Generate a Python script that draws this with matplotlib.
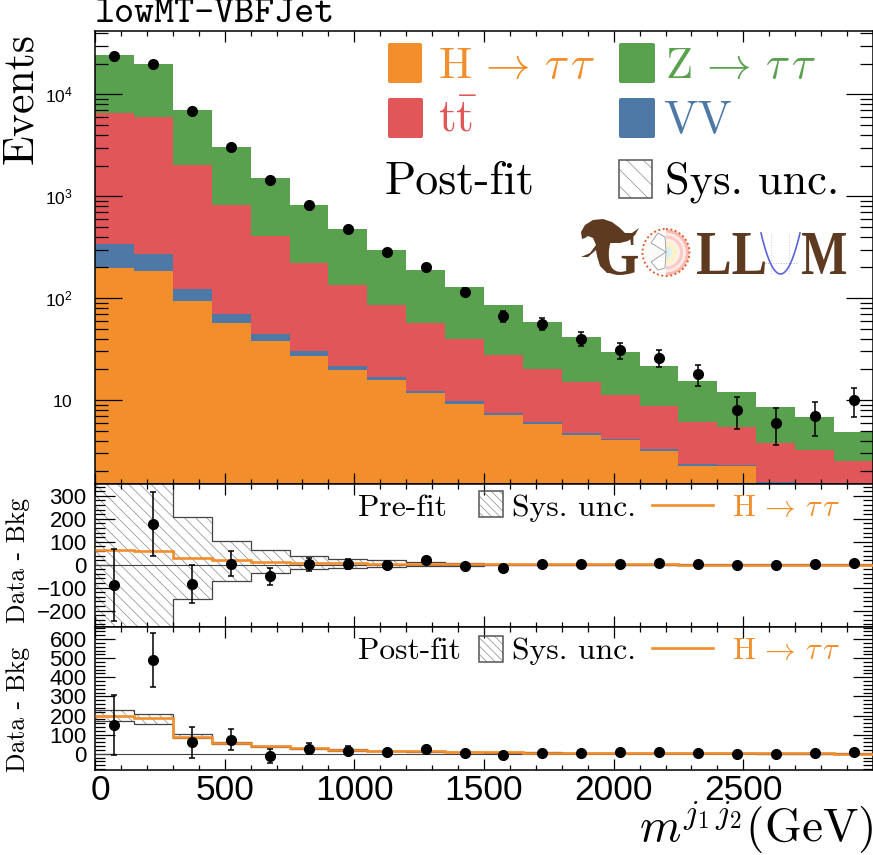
import numpy as np
import matplotlib; matplotlib.use("Agg")
import matplotlib.pyplot as plt
from matplotlib.font_manager import FontProperties
from matplotlib.patches import FancyBboxPatch, Rectangle, Circle, Wedge, Polygon, PathPatch
from matplotlib.textpath import TextPath
from matplotlib.ticker import MultipleLocator, LogLocator, NullFormatter
from matplotlib.transforms import Affine2D, ScaledTranslation

plt.rcParams["font.family"] = ["Liberation Sans", "DejaVu Sans"]
plt.rcParams["mathtext.fontset"] = "custom"
plt.rcParams["mathtext.rm"] = "Liberation Sans"
plt.rcParams["hatch.linewidth"] = 0.5
plt.rcParams["axes.linewidth"] = 1.1

ORANGE, RED, GREEN, BLUE = "#f28e2b", "#e15759", "#59a14f", "#4e79a7"
BROWN = "#5e3a20"
W, H = 873, 855

# 20 bins, 150 GeV wide
EDGES = [0, 150, 300, 450, 600, 750, 900, 1050, 1200, 1350, 1500, 1650, 1800, 1950, 2100, 2250, 2400, 2550, 2700, 2850, 3000]
CENTERS = [75, 225, 375, 525, 675, 825, 975, 1125, 1275, 1425, 1575, 1725, 1875, 2025, 2175, 2325, 2475, 2625, 2775, 2925]

# cumulative tops of the post-fit stack
TOP_ZTT = [24270, 19680, 7015, 3044, 1510, 828, 481, 299, 189, 128, 85.9, 58.9, 41.8, 29.6, 21.5, 15.5, 12.1, 8.5, 6.8, 4.85]
TOP_TT = [6520, 5960, 2015, 817, 405, 223, 134, 86, 57.3, 39.3, 27.6, 20.1, 14.9, 11.2, 8.65, 6.1, 5.5, 3.78, 3.24, 2.52]
TOP_VV = [343, 273, 123, 70, 45, 30.5, 21.7, 16.8, 12.4, 9.68, 7.4, 6.12, 4.74, 4.18, 3.28, 2.34, 2.32, 1.56, 1.4, 1.4]
TOP_HTT = [199, 185, 94, 57, 38, 26.8, 19.8, 15.6, 11.6, 9.05, 7.06, 5.85, 4.57, 4.05, 3.18, 2.27, 2.24, 1.4, 1.4, 1.4]

DATA = [23900, 19700, 6900, 3020, 1435, 817, 474, 287, 203, 116, 67, 56, 40, 31, 26, 18, 8, 6, 7, 10]
DATA_ERR = [155, 140, 83, 55, 38, 29, 22, 17, 14, 11, 8.2, 7.5, 6.3, 5.6, 5.1, 4.3, 2.8, 2.4, 2.6, 3.2]

# pre-fit data minus background
PRE_DIFF = [-88, 178, -84, 4, -51, 1, 3, -3, 19, -4, -13, 1.5, 1, 4, 6, 4, -3, -3, 1, 6]
PRE_UP = [500, 500, 209, 103, 62, 36, 25, 20, 13, 6, 3, 3, 2, 2, 2, 1, 1, 1, 1, 1]
PRE_LO = [-400, -400, -151, -70, -36, -20, -13, -10, -7, -4, -2, -2, -2, -1, -1, -1, -1, -1, -1, -1]
PRE_HTT = [62, 58, 29, 19, 12, 9, 6, 5, 4, 3, 2, 1.5, 1, 1, 1, 0.5, 0.5, 0.5, 0.5, 0.5]

# post-fit data minus background
POST_DIFF = [150, 490, 59, 73, -12, 26, 17, 7, 26, 2, -9, 5, 3, 7, 9, 5, -2, -2, 2, 7]
POST_UP = [227, 209, 105, 63, 42, 30, 23, 17, 13, 10, 8, 7, 5, 5, 4, 3, 3, 2, 2, 2]
POST_LO = [169, 157, 80, 51, 34, 24, 17, 14, 10, 8, 6, 5, 4, 3, 2, 2, 2, 1, 1, 1]
POST_HTT = [195, 185, 89, 58, 38, 28, 20, 15, 12, 9, 7, 6, 4.5, 4, 3, 2.3, 2.2, 1.5, 1.5, 1]

MAIN_YTICKS = [10, 100, 1000, 10000]
MAIN_YLABELS = [r"$\mathrm{10}$", r"$\mathrm{10^{2}}$", r"$\mathrm{10^{3}}$", r"$\mathrm{10^{4}}$"]
XTICKS = [0, 500, 1000, 1500, 2000, 2500]
HTT_LABEL = r"H$\,\rightarrow\,\tau\,\tau$"


def panel(top, bottom):
    return fig.add_axes([95 / W, (H - bottom) / H, 778 / W, (bottom - top) / H])


def style_ticks(ax, ymajor, yminor):
    ax.set_xlim(0, 3000)
    ax.set_xticks(XTICKS)
    ax.xaxis.set_minor_locator(MultipleLocator(100))
    ax.tick_params(which="both", direction="in", top=True, right=True, width=0.9)
    ax.tick_params(axis="x", which="major", length=8)
    ax.tick_params(axis="x", which="minor", length=3.6)
    ax.tick_params(axis="y", which="major", length=ymajor)
    ax.tick_params(axis="y", which="minor", length=yminor)


def diff_panel(ax, diff, up, lo, htt):
    ax.axhline(0, color="#444444", lw=0.8)
    ax.fill_between(EDGES, up + up[-1:], lo + lo[-1:], step="post", facecolor="none",
                    edgecolor="#8a8a8a", lw=0, hatch="\\\\\\")
    ax.stairs(up, EDGES, color="#444444", lw=0.9, baseline=None)
    ax.stairs(lo, EDGES, color="#444444", lw=0.9, baseline=None)
    ax.stairs(htt, EDGES, color=ORANGE, lw=1.9, baseline=None, zorder=4)
    ax.errorbar(CENTERS, diff, yerr=DATA_ERR, fmt="o", color="k", ms=7, capsize=2, elinewidth=1.1,
                capthick=1.1, zorder=5)
    ax.yaxis.set_major_locator(MultipleLocator(100))
    ax.yaxis.set_minor_locator(MultipleLocator(20))
    style_ticks(ax, 14.4, 7.2)
    ax.tick_params(axis="y", labelsize=16, pad=6)


fig = plt.figure(figsize=(W / 100, H / 100), dpi=100)
ax_main = panel(31, 484)
ax_pre = panel(484, 627)
ax_post = panel(627, 770)

for top, color in [(TOP_ZTT, GREEN), (TOP_TT, RED), (TOP_VV, BLUE), (TOP_HTT, ORANGE)]:
    ax_main.stairs(top, EDGES, baseline=1, fill=True, color=color, lw=0)
ax_main.errorbar(CENTERS, DATA, yerr=DATA_ERR, fmt="o", color="k", ms=7, capsize=2, elinewidth=1.1, capthick=1.1, zorder=5)
ax_main.set_yscale("log")
ax_main.set_ylim(1.5, 41900)
ax_main.set_yticks(MAIN_YTICKS, MAIN_YLABELS)
ax_main.yaxis.set_minor_locator(LogLocator(base=10, subs=range(2, 10), numticks=12))
ax_main.yaxis.set_minor_formatter(NullFormatter())
style_ticks(ax_main, 19.4, 9.6)
ax_main.tick_params(axis="y", which="major", labelsize=12.5, pad=16)
ax_main.tick_params(axis="x", labelbottom=False)
ax_main.set_title("lowMT-VBFJet", loc="left", family="cmtt10", fontsize=27.5, pad=3)

diff_panel(ax_pre, PRE_DIFF, PRE_UP, PRE_LO, PRE_HTT)
ax_pre.set_ylim(-271, 351)
ax_pre.tick_params(axis="x", labelbottom=False)

diff_panel(ax_post, POST_DIFF, POST_UP, POST_LO, POST_HTT)
ax_post.set_ylim(-85, 663)
ax_post.tick_params(axis="x", labelsize=25.5, pad=3)
zero = ax_post.get_xticklabels()[0]
zero.set_transform(zero.get_transform() + ScaledTranslation(0.05, 0, fig.dpi_scale_trans))

# everything below is placed in image pixels on a transparent overlay
ov = fig.add_axes([0, 0, 1, 1], zorder=10)
ov.axis("off")
ov.set_xlim(0, W)
ov.set_ylim(H, 0)


def label(x, y, s, size, color="k", **kw):
    ov.text(x, y, s, fontsize=size, color=color, family="cmr10", math_fontfamily="cm", va="baseline", **kw)


def swatch(x0, y0, x1, y1, color):
    ov.add_patch(FancyBboxPatch((x0 + 2, y0 + 2), x1 - x0 - 4, y1 - y0 - 4, boxstyle="round,pad=2,rounding_size=2",
                                facecolor=color, edgecolor="none", mutation_aspect=1))


def hatch_box(x, y, w, h, hatch):
    ov.add_patch(Rectangle((x, y), w, h, facecolor="none", edgecolor="#8a8a8a", lw=0, hatch=hatch))
    ov.add_patch(Rectangle((x, y), w, h, facecolor="none", edgecolor="#555555", lw=1.1))


def logo_text(s, x0, x1, y_top, y_base):
    path = TextPath((0, 0), s, size=1, prop=FontProperties(family="Liberation Serif", weight="bold"))
    box = path.get_extents()
    tr = Affine2D().translate(-box.x0, -box.y0).scale((x1 - x0) / box.width, -(y_base - y_top) / box.height).translate(x0, y_base)
    ov.add_patch(PathPatch(path, transform=tr + ov.transData, facecolor=BROWN, edgecolor="none"))


swatch(388, 43, 422, 83, ORANGE)
swatch(388, 98, 423, 138, RED)
swatch(619, 43, 655, 83, GREEN)
swatch(619, 98, 655, 138, BLUE)
label(438, 78, HTT_LABEL, 32, ORANGE)
label(438, 132, r"t$\mathrm{\bar{t}}$", 33, RED)
label(665, 78, HTT_LABEL.replace("H", "Z"), 32, GREEN)
label(663, 132, "VV", 33, BLUE)
label(385, 193, "Post-fit", 33)
hatch_box(619, 160, 33, 38, "\\\\")
label(665, 193, "Sys. unc.", 32)

for y_text, y_box, y_line, name in [(516, 491, 505, "Pre-fit"), (659, 636, 648, "Post-fit")]:
    label(358, y_text, name, 22.7)
    hatch_box(479, y_box, 24, 26, "\\\\\\\\")
    label(512, y_text, "Sys. unc.", 22.8)
    ov.plot([652, 713], [y_line, y_line], color=ORANGE, lw=1.9)
    label(732, y_text, HTT_LABEL, 22, ORANGE)

label(32, 98, "Events", 31.5, rotation=90, rotation_mode="anchor", ha="center")
label(25, 560, "Data - Bkg", 18.5, rotation=90, rotation_mode="anchor", ha="center")
label(25, 709, "Data - Bkg", 18.5, rotation=90, rotation_mode="anchor", ha="center")
label(873, 842, r"$m^{j_1\,j_2}$(GeV)", 34, ha="right")

# GOLLUM logo
ov.add_patch(Polygon([(582, 239), (581, 232), (585, 225), (593, 220), (603, 219), (612, 222), (620, 228),
                      (625, 233), (632, 233), (639, 228), (635, 235), (628, 241), (620, 243), (610, 243),
                      (604, 250), (603, 260), (610, 270), (620, 273), (607, 273), (600, 266), (597, 256),
                      (596, 250), (588, 257), (581, 257), (590, 253), (596, 245), (593, 238), (588, 236),
                      (585, 238)], facecolor=BROWN, edgecolor="none"))
logo_text("G", 600, 638, 233, 275)
ov.add_patch(Circle((666, 252.5), 25, facecolor="#fafafa", edgecolor="none"))
for r, c in [(23, "#fbb9b2"), (20, "#fde9e5"), (17, "#fbcac3"), (14, "#fcf1ea"), (11, "#fcf1c8"), (6, "#d8f1f2")]:
    ov.add_patch(Wedge((666, 252.5), r, -90, 90, facecolor=c, edgecolor="none"))
ov.add_patch(Circle((666, 252.5), 23.5, facecolor="none", edgecolor="#d9541e", lw=1.3, ls=(0, (1, 1.5))))
ov.add_patch(Polygon([(666, 252), (651, 243), (658, 233), (665, 237)], facecolor="white", edgecolor="#999999", lw=0.6))
ov.add_patch(Polygon([(666, 252), (651, 262), (658, 270), (665, 268)], facecolor="white", edgecolor="#999999", lw=0.6))
logo_text("LL", 697, 765, 233, 274)
logo_text("M", 802, 846, 233, 274)
ov.plot([771, 771], [234, 274], color="#cccccc", lw=0.7, ls=":")
ov.plot([789, 789], [234, 274], color="#cccccc", lw=0.7, ls=":")
ov.plot([765, 798], [263, 263], color="#bbbbbb", lw=0.7, ls=":")
px = np.linspace(761, 800, 40)
ov.plot(px, 274 - 41 * ((px - 780.5) / 19.5) ** 2, color="#5b63e0", lw=1.2)

plt.savefig("out.png", dpi=100)
